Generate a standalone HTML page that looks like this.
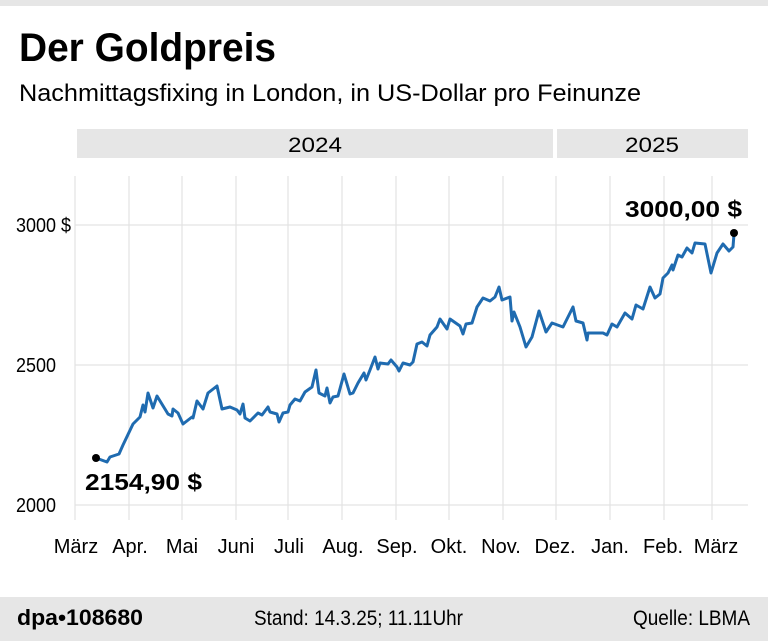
<!DOCTYPE html>
<html><head><meta charset="utf-8"><style>
html,body{margin:0;padding:0;background:#fff}
svg{display:block}
text{font-family:"Liberation Sans",sans-serif}
</style></head><body>
<svg width="768" height="641" viewBox="0 0 768 641" xmlns="http://www.w3.org/2000/svg">
<rect x="0" y="0" width="768" height="6" fill="#e6e6e6"/>
<text x="19" y="61" font-size="40" font-weight="bold" textLength="257" lengthAdjust="spacingAndGlyphs">Der Goldpreis</text>
<text x="19" y="101" font-size="24" textLength="622" lengthAdjust="spacingAndGlyphs">Nachmittagsfixing in London, in US-Dollar pro Feinunze</text>
<rect x="77" y="129" width="476" height="29" fill="#e6e6e6"/>
<rect x="557" y="129" width="191" height="29" fill="#e6e6e6"/>
<text x="315" y="152" font-size="21" text-anchor="middle" textLength="54" lengthAdjust="spacingAndGlyphs">2024</text>
<text x="652" y="152" font-size="21" text-anchor="middle" textLength="54" lengthAdjust="spacingAndGlyphs">2025</text>
<g stroke="#e3e3e3" stroke-width="1.2">
<line x1="75" y1="176" x2="75" y2="520"/><line x1="129" y1="176" x2="129" y2="520"/><line x1="182" y1="176" x2="182" y2="520"/><line x1="236" y1="176" x2="236" y2="520"/><line x1="288" y1="176" x2="288" y2="520"/><line x1="342" y1="176" x2="342" y2="520"/><line x1="396" y1="176" x2="396" y2="520"/><line x1="449" y1="176" x2="449" y2="520"/><line x1="503" y1="176" x2="503" y2="520"/><line x1="556" y1="176" x2="556" y2="520"/><line x1="610" y1="176" x2="610" y2="520"/><line x1="664" y1="176" x2="664" y2="520"/><line x1="712" y1="176" x2="712" y2="520"/>
<line x1="75" y1="225" x2="748" y2="225"/><line x1="75" y1="365" x2="748" y2="365"/><line x1="75" y1="505" x2="748" y2="505"/>
</g>
<g font-size="20" text-anchor="end">
<text x="71" y="232" textLength="55" lengthAdjust="spacingAndGlyphs">3000 $</text>
<text x="56" y="372" textLength="40" lengthAdjust="spacingAndGlyphs">2500</text>
<text x="56" y="512" textLength="40" lengthAdjust="spacingAndGlyphs">2000</text>
</g>
<g font-size="20" text-anchor="middle">
<text x="76" y="553">März</text><text x="130" y="553">Apr.</text><text x="182" y="553">Mai</text><text x="236" y="553">Juni</text><text x="289" y="553">Juli</text><text x="343" y="553">Aug.</text><text x="397" y="553">Sep.</text><text x="449" y="553">Okt.</text><text x="501" y="553">Nov.</text><text x="555" y="553">Dez.</text><text x="610" y="553">Jan.</text><text x="663" y="553">Feb.</text><text x="716" y="553">März</text>
</g>
<polyline fill="none" stroke="#1f6bb0" stroke-width="3" stroke-linejoin="round" points="96,458 107,462 110,457 119,454 123,445 133,424 140,417 143,405 145,412 148,393 153,408 157,396 168,414 172,416 173,409 178,413 183,424 192,417 193,418 197,401 203,409 208,393 217,386 222,409 230,407 237,410 240,414 243,404 245,418 250,421 255,416 258,413 262,415 268,407 270,412 277,414 279,422 283,413 288,412 290,405 295,399 300,401 305,392 312,387 316,370 319,393 325,396 327,388 330,403 333,397 338,396 344,374 350,394 353,393 358,383 364,373 366,380 370,370 375,357 378,369 380,363 388,364 391,360 397,367 399,371 403,363 410,365 413,362 417,344 422,342 427,346 430,335 437,327 440,319 447,329 450,319 460,326 463,334 466,324 472,323 477,307 483,298 490,301 495,297 499,287 502,300 510,297 512,321 514,312 520,327 526,347 532,337 539,311 546,332 552,323 563,327 573,307 576,321 583,323 587,340 588,333 603,333 607,335 612,324 617,327 625,313 632,319 636,305 643,309 650,287 655,298 660,294 663,278 668,273 672,265 673,270 678,255 682,257 687,248 692,253 695,243 705,244 711,273 717,253 723,244 729,251 733,247 734,234"/>
<circle cx="96" cy="458" r="4" fill="#000"/>
<circle cx="734" cy="233" r="4" fill="#000"/>
<text x="85" y="490" font-size="23" font-weight="bold" textLength="117" lengthAdjust="spacingAndGlyphs">2154,90 $</text>
<text x="742" y="217" font-size="23" font-weight="bold" text-anchor="end" textLength="117" lengthAdjust="spacingAndGlyphs">3000,00 $</text>
<rect x="0" y="597" width="768" height="44" fill="#e6e6e6"/>
<text x="17" y="625" font-size="22" font-weight="bold" textLength="126" lengthAdjust="spacingAndGlyphs">dpa•108680</text>
<text x="254" y="625" font-size="21" textLength="209" lengthAdjust="spacingAndGlyphs">Stand: 14.3.25; 11.11Uhr</text>
<text x="750" y="625" font-size="21" text-anchor="end" textLength="117" lengthAdjust="spacingAndGlyphs">Quelle: LBMA</text>
</svg>
</body></html>
